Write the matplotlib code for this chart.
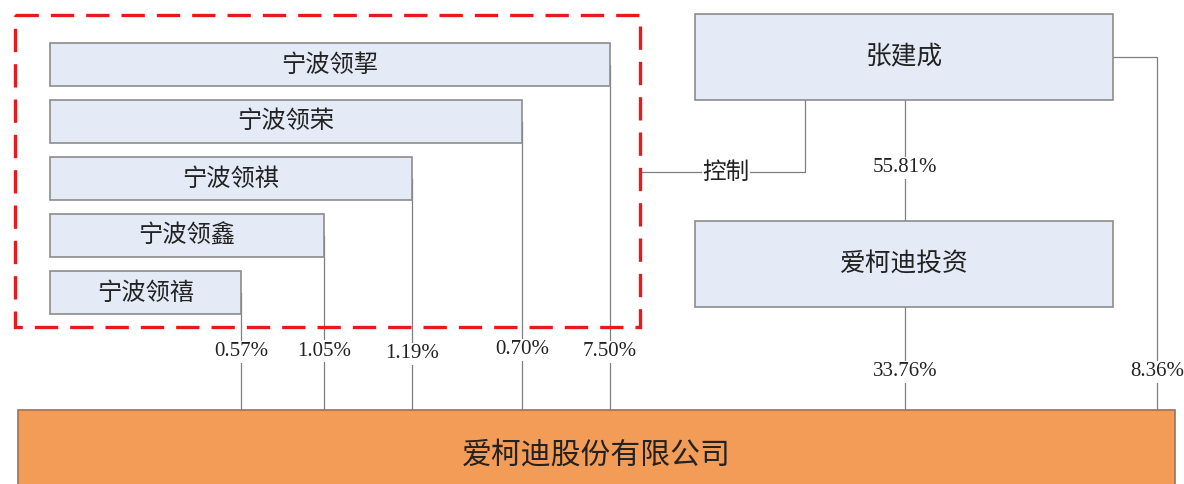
import matplotlib.pyplot as plt
from matplotlib.patches import Rectangle

plt.rcParams['font.family'] = ['Noto Sans CJK SC', 'DejaVu Sans']

# entities and holdings
ningbo_names = ['宁波领挈', '宁波领荣', '宁波领祺', '宁波领鑫', '宁波领禧']
ningbo_pcts = ['7.50%', '0.70%', '1.19%', '1.05%', '0.57%']
owner = '张建成'
holding = '爱柯迪投资'
company = '爱柯迪股份有限公司'
owner_to_holding = '55.81%'
holding_to_company = '33.76%'
owner_to_company = '8.36%'
control_label = '控制'

# layout (pixel coordinates, y grows downward)
W, H = 1184, 484
box_fc = '#e4ebf6'
box_ec = '#8c8c8c'
line_c = '#7f7f7f'
pct_font = 'Liberation Serif'

ningbo_right = [610, 522, 412, 324, 241]
ningbo_top = [43, 100, 157, 214, 271]
ningbo_h = 43
ningbo_left = 50
pct_y = [352, 350, 354, 351, 352]

fig = plt.figure(figsize=(W / 100, H / 100), dpi=100)
ax = fig.add_axes([0, 0, 1, 1])
ax.set_xlim(0, W)
ax.set_ylim(H, 0)
ax.axis('off')

company_top = 410


def box(x0, y0, x1, y1, text, size, fc=box_fc, ec=box_ec):
    ax.add_patch(Rectangle((x0, y0), x1 - x0, y1 - y0, fc=fc, ec=ec,
                           lw=1.2, zorder=2))
    ax.text((x0 + x1) / 2, (y0 + y1) / 2, text, ha='center', va='center',
            fontsize=size, color='#222222', zorder=3)


def pct(x, y, text):
    ax.text(x, y, text, ha='center', va='center', fontsize=15,
            family=pct_font, color='#222222', zorder=4,
            bbox=dict(fc='white', ec='none', pad=1))


# Ningbo partnerships
for name, p, xr, yt, yp in zip(ningbo_names, ningbo_pcts, ningbo_right,
                               ningbo_top, pct_y):
    box(ningbo_left, yt, xr, yt + ningbo_h, name, 17.5)
    ax.plot([xr, xr], [yt + ningbo_h / 2, company_top], color=line_c,
            lw=0.9, zorder=1)
    pct(xr, yp, p)

# red dashed frame
ax.add_patch(Rectangle((15, 15), 625, 312, fc='none', ec='#e8191c',
                       lw=2.4, ls=(0, (7, 3.6)), zorder=3))

# owner and holding company
box(695, 14, 1113, 100, owner, 18.5)
box(695, 221, 1113, 307, holding, 18.5)

ax.plot([905, 905], [100, 221], color=line_c, lw=0.9, zorder=1)
pct(905, 168, owner_to_holding)

ax.plot([905, 905], [307, company_top], color=line_c, lw=0.9, zorder=1)
pct(905, 372, holding_to_company)

ax.plot([1113, 1157, 1157], [57, 57, company_top], color=line_c, lw=0.9,
        zorder=1)
pct(1157, 372, owner_to_company)

# control link
ax.plot([805, 805, 640], [100, 172, 172], color=line_c, lw=0.9, zorder=1)
ax.text(726, 172, control_label, ha='center', va='center', fontsize=17,
        color='#222222', zorder=4, bbox=dict(fc='white', ec='none', pad=0))

# listed company
box(18, company_top, 1175, 500, company, 21.5, fc='#f29c57', ec='#a0705a')

fig.savefig('out.png', dpi=100)
